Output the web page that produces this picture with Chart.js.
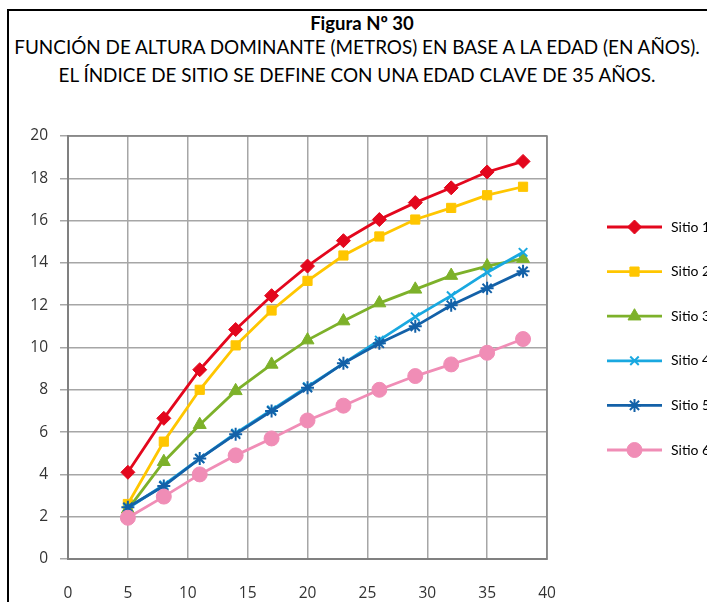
<!DOCTYPE html>
<html>
<head>
<meta charset="utf-8">
<script src="https://cdn.jsdelivr.net/npm/chart.js@4/dist/chart.umd.min.js"></script>
<style>
  html, body { margin: 0; padding: 0; background: #fff; overflow: hidden; }
  body { width: 707px; height: 602px; position: relative; font-family: Lato, "Open Sans", sans-serif; }
  #frame { position: absolute; left: 7px; top: 9px; width: 760px; height: 700px; border: 2.5px solid #000; }
  #wrap { position: absolute; left: 0; top: 0; width: 740px; height: 602px; }
  .t { position: absolute; left: 0; width: 714px; text-align: center; color: #000; white-space: nowrap; }
  #t1 { top: 11px; width: 724px; font-size: 18.5px; font-weight: bold; line-height: 24px; }
  #t2 { top: 35px; font-size: 18.9px; line-height: 24px; }
  #t3 { top: 63px; font-size: 18.9px; line-height: 24px; }
</style>
</head>
<body>
<div id="frame"></div>
<div class="t" id="t1">Figura Nº 30</div>
<div class="t" id="t2">FUNCIÓN DE ALTURA DOMINANTE (METROS) EN BASE A LA EDAD (EN AÑOS).</div>
<div class="t" id="t3">EL ÍNDICE DE SITIO SE DEFINE CON UNA EDAD CLAVE DE 35 AÑOS.</div>
<div id="wrap"><canvas id="chart" width="740" height="602"></canvas></div>
<script>
// edad (años)
const ages = [5, 8, 11, 14, 17, 20, 23, 26, 29, 32, 35, 38];

// altura dominante (m) por sitio
const sitio1 = [4.1, 6.65, 8.95, 10.85, 12.45, 13.85, 15.05, 16.05, 16.85, 17.55, 18.3, 18.8];
const sitio2 = [2.6, 5.55, 8.0, 10.1, 11.75, 13.15, 14.35, 15.25, 16.05, 16.6, 17.2, 17.6];
const sitio3 = [2.35, 4.6, 6.35, 7.95, 9.2, 10.35, 11.25, 12.1, 12.75, 13.4, 13.85, 14.2];
const sitio4 = [2.4, 3.5, 4.75, 5.95, 7.05, 8.15, 9.25, 10.35, 11.45, 12.45, 13.55, 14.5];
const sitio5 = [2.45, 3.45, 4.75, 5.9, 7.0, 8.1, 9.25, 10.2, 11.0, 12.0, 12.8, 13.6];
const sitio6 = [1.95, 2.95, 4.0, 4.9, 5.7, 6.55, 7.25, 8.0, 8.65, 9.2, 9.75, 10.4];

const seriesNames = ["Sitio 1", "Sitio 2", "Sitio 3", "Sitio 4", "Sitio 5", "Sitio 6"];
const seriesValues = [sitio1, sitio2, sitio3, sitio4, sitio5, sitio6];
const colors = ["#E3071D", "#FFC600", "#7DB12A", "#19A8E0", "#1361A8", "#F08DB6"];
const markers = ["rectRot", "rect", "triangle", "crossRot", "star", "circle"];
const markerSize = [7, 6.5, 7.5, 6, 6.5, 7.5];

const xTicks = [0, 5, 10, 15, 20, 25, 30, 35, 40];

const datasets = seriesValues.map((vals, i) => ({
  label: seriesNames[i],
  data: vals.map((v, j) => ({ x: ages[j], y: v })),
  borderColor: colors[i],
  backgroundColor: colors[i],
  pointBackgroundColor: colors[i],
  pointBorderColor: colors[i],
  pointBorderWidth: (markers[i] === "crossRot" || markers[i] === "star") ? 2 : 1,
  borderWidth: 2.8,
  pointStyle: markers[i],
  pointRadius: markerSize[i],
  tension: 0,
  order: seriesNames.length - i
}));

// legend drawn to the right, line through the marker like the original
const sideLegend = {
  id: "sideLegend",
  afterDraw(chart) {
    const ctx = chart.ctx;
    const x0 = chart.chartArea.right + 60;
    chart.data.datasets.forEach((ds, i) => {
      const y = 227 + i * 44.6;
      ctx.save();
      ctx.strokeStyle = ds.borderColor;
      ctx.lineWidth = ds.borderWidth;
      ctx.beginPath();
      ctx.moveTo(x0, y);
      ctx.lineTo(x0 + 55, y);
      ctx.stroke();
      ctx.fillStyle = ds.pointBackgroundColor;
      ctx.strokeStyle = ds.pointBorderColor;
      ctx.lineWidth = ds.pointBorderWidth;
      Chart.helpers.drawPoint(ctx, {
        pointStyle: ds.pointStyle, radius: ds.pointRadius, borderWidth: ds.pointBorderWidth, rotation: 0
      }, x0 + 27.5, y);
      ctx.fillStyle = "#000";
      ctx.font = "14px Lato";
      ctx.textBaseline = "middle";
      ctx.textAlign = "left";
      ctx.fillText(ds.label, x0 + 64, y);
      ctx.restore();
    });
  }
};

const plotBorder = {
  id: "plotBorder",
  beforeDatasetsDraw(chart) {
    const { ctx, chartArea: a } = chart;
    ctx.save();
    ctx.strokeStyle = "#808080";
    ctx.lineWidth = 1.5;
    ctx.strokeRect(a.left, a.top, a.right - a.left, a.bottom - a.top);
    ctx.restore();
  }
};

const tickFont = { family: "Open Sans", size: 15.5 };

new Chart(document.getElementById("chart"), {
  type: "line",
  data: { datasets },
  options: {
    responsive: false,
    animation: false,
    layout: { padding: { top: 136, right: 193, bottom: 0, left: 0 } },
    plugins: {
      legend: { display: false },
      tooltip: { enabled: false }
    },
    scales: {
      x: {
        type: "linear",
        min: 0,
        max: 40,
        afterBuildTicks: (s) => { s.ticks = xTicks.map(v => ({ value: v })); },
        afterFit: (s) => { s.height = 43; },
        grid: { color: "#A6A6A6", lineWidth: 1.5, drawTicks: false },
        border: { color: "#808080", width: 2 },
        ticks: { padding: 25, color: "#333", font: tickFont }
      },
      y: {
        min: 0,
        max: 20,
        ticks: { stepSize: 2, padding: 12, color: "#333", font: tickFont },
        afterFit: (s) => { s.width = 68; },
        grid: { color: "#A6A6A6", lineWidth: 1.5, drawTicks: true, tickLength: 8 },
        border: { color: "#808080", width: 2 }
      }
    }
  },
  plugins: [plotBorder, sideLegend]
});
</script>
</body>
</html>
